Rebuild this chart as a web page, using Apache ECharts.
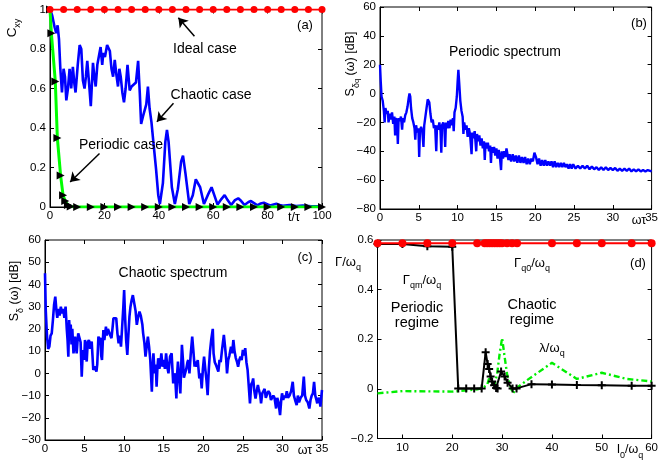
<!DOCTYPE html>
<html><head><meta charset="utf-8">
<script src="https://cdn.jsdelivr.net/npm/echarts@6/dist/echarts.min.js"></script>
<style>html,body{margin:0;padding:0;background:#fff}#c{width:661px;height:466px}</style>
</head><body><div id="c"></div><script>
// ---------- Panel (a): correlation C_xy vs t/tau ----------
const idealT = [0,5,10,15,20,25,30,35,40,45,50,55,60,65,70,75,80,85,90,95,100];
const idealC = [1,1,1,1,1,1,1,1,1,1,1,1,1,1,1,1,1,1,1,1,1];
const periodicT = [0,0.5,1.95,2.7,3.9,4.8,5.6,6.6,7.6,10,15,20,25,30,35,40,45,50,55,60,65,70,75,80,85,90,95,100];
const periodicC = [1,0.88,0.636,0.35,0.159,0.06,0.03,0.01,0.003,0,0,0,0,0,0,0,0,0,0,0,0,0,0,0,0,0,0,0];
const chaoticCase = [[0,1],[0.8,0.97],[1.7,0.91],[2.3,0.88],[2.8,0.92],[3.3,0.85],[3.8,0.70],[4.4,0.58],[5.0,0.70],[5.5,0.66],[6.0,0.54],[6.6,0.60],[7.2,0.70],[7.8,0.60],[8.4,0.71],[9.0,0.62],[9.4,0.58],[10.2,0.72],[10.9,0.82],[11.5,0.80],[12.1,0.64],[12.7,0.60],[13.2,0.66],[13.7,0.74],[14.4,0.62],[15.0,0.51],[15.8,0.73],[16.3,0.66],[16.8,0.61],[17.4,0.72],[18.0,0.73],[18.6,0.81],[19.2,0.72],[19.6,0.78],[20.2,0.76],[21.0,0.82],[21.5,0.83],[22.0,0.79],[22.6,0.70],[23.2,0.66],[23.8,0.745],[24.4,0.67],[25.0,0.61],[25.5,0.70],[26.0,0.66],[26.6,0.58],[27.2,0.53],[27.8,0.60],[28.5,0.72],[29.3,0.59],[30.0,0.61],[30.8,0.62],[31.6,0.63],[32.4,0.74],[33.0,0.58],[33.5,0.42],[34.2,0.46],[34.8,0.46],[35.4,0.52],[36.0,0.61],[36.6,0.50],[37.3,0.43],[38.0,0.33],[39.0,0.19],[39.8,0.06],[40.4,0.015],[41.5,0.12],[42.4,0.33],[43,0.39],[43.6,0.33],[44.8,0.1],[45.9,0.015],[47,0.09],[48.2,0.23],[48.9,0.26],[49.8,0.17],[51.2,0.015],[52.5,0.06],[53.6,0.14],[54.3,0.15],[55.2,0.10],[56.6,0.015],[58,0.06],[59.4,0.10],[60.4,0.06],[61.6,0.012],[63,0.04],[64.2,0.06],[65.3,0.035],[66.6,0.01],[68,0.035],[69.2,0.044],[70.3,0.03],[71.5,0.01],[73,0.025],[73.9,0.03],[75,0.02],[76.2,0.008],[77.5,0.018],[78.6,0.022],[79.8,0.014],[81,0.008],[82.2,0.013],[83.2,0.016],[84.5,0.01],[85.6,0.006],[88,0.01],[90.5,0.005],[93,0.007],[96,0.004],[100,0.003]];

// ---------- Panel (b): periodic spectrum ----------
const periodicSpectrum = [[0,20],[0.1,8],[0.2,-2],[0.35,-5],[0.5,-12],[0.6,-20],[0.7,-10],[0.85,-14],[1.0,-12],[1.1,-20],[1.25,-14],[1.4,-18],[1.55,-13],[1.7,-21],[1.85,-16],[1.95,-29],[2.05,-17],[2.2,-20],[2.3,-35],[2.4,-17],[2.55,-19],[2.7,-16],[2.85,-25],[2.95,-17],[3.1,-20],[3.25,-15],[3.4,-13],[3.55,-9],[3.7,-3],[3.8,0],[3.9,-2],[4.0,-10],[4.15,-17],[4.3,-20],[4.45,-24],[4.55,-32],[4.65,-22],[4.8,-27],[4.95,-24],[5.05,-44],[5.15,-26],[5.3,-23],[5.45,-26],[5.6,-37],[5.7,-22],[5.85,-16],[6.0,-10],[6.15,-4],[6.25,-3],[6.35,-6],[6.5,-14],[6.65,-20],[6.8,-18],[6.95,-24],[7.1,-22],[7.25,-40],[7.35,-22],[7.5,-25],[7.65,-20],[7.8,-26],[7.9,-41],[8.0,-22],[8.15,-20],[8.3,-24],[8.4,-37],[8.5,-20],[8.65,-24],[8.8,-19],[8.95,-24],[9.1,-18],[9.25,-22],[9.4,-17],[9.5,-26],[9.6,-13],[9.75,-10],[9.9,-2],[10.0,8],[10.1,16.5],[10.2,8],[10.35,-5],[10.5,-12],[10.65,-16],[10.75,-28],[10.85,-20],[11.0,-25],[11.15,-22],[11.3,-30],[11.45,-24],[11.6,-28],[11.8,-42],[11.9,-27],[12.05,-31],[12.2,-26],[12.4,-40],[12.5,-28],[12.65,-33],[12.8,-29],[12.95,-36],[13.1,-31],[13.25,-38],[13.4,-33],[13.5,-46],[13.6,-34],[13.75,-38],[13.9,-34],[14.05,-40],[14.2,-36],[14.3,-48],[14.4,-37],[14.55,-41],[14.7,-37],[14.85,-43],[15.0,-38],[15.15,-45],[15.3,-39],[15.45,-44],[15.6,-53],[15.7,-40],[15.85,-45],[16.0,-40],[16.15,-44],[16.3,-38],[16.4,-37],[16.55,-46],[16.7,-42],[16.9,-47],[17.1,-42],[17.3,-47],[17.5,-43],[17.7,-48],[17.9,-43],[18.1,-48],[18.3,-44],[18.5,-48],[18.7,-44],[18.9,-49],[19.1,-45],[19.3,-49],[19.5,-45],[19.7,-47],[19.9,-41],[20.1,-44],[20.3,-49],[20.5,-45],[20.7,-50],[20.9,-46],[21.1,-50],[21.3,-46],[21.5,-50],[21.7,-47],[21.9,-50],[22.1,-47],[22.3,-51],[22.5,-47],[22.7,-51],[22.9,-48],[23.1,-51],[23.3,-48],[23.5,-51],[23.7,-48],[23.9,-51],[24.1,-49],[24.3,-52],[24.5,-49],[24.7,-52],[24.9,-49],[25.2,-52],[25.5,-50],[25.8,-52],[26.1,-50],[26.4,-52],[26.7,-50],[27.0,-52.5],[27.3,-50.5],[27.6,-52.5],[27.9,-51],[28.2,-53],[28.5,-51],[28.8,-53],[29.1,-51],[29.4,-53],[29.7,-51.5],[30.0,-53],[30.3,-51.5],[30.6,-53.5],[30.9,-52],[31.2,-53.5],[31.5,-52],[31.8,-53.5],[32.1,-52],[32.4,-54],[32.7,-52.5],[33.0,-54],[33.3,-52.5],[33.6,-54],[33.9,-53],[34.2,-54],[34.5,-53],[35,-54]];

// ---------- Panel (c): chaotic spectrum ----------
const chaoticSpectrum = [[0,45],[0.1,28],[0.25,17],[0.4,11],[0.55,12],[0.7,17],[0.85,18],[1.0,24],[1.15,31],[1.3,34.5],[1.45,28],[1.55,25],[1.7,29],[1.85,26],[2.0,30],[2.15,27],[2.3,29],[2.45,25],[2.6,30],[2.75,20],[2.85,15],[2.95,7.5],[3.05,24],[3.15,18],[3.25,22],[3.35,13],[3.45,20],[3.6,9],[3.7,12],[3.8,16.5],[3.9,13],[4.0,9],[4.1,14],[4.2,18],[4.35,16],[4.5,14],[4.64,-1.5],[4.75,8],[4.85,10.5],[4.95,6],[5.05,15],[5.15,12],[5.27,5.3],[5.4,14],[5.55,15],[5.7,11],[5.8,13],[5.9,14.3],[6.0,8],[6.1,1.5],[6.25,3],[6.4,2],[6.5,0.8],[6.6,4],[6.75,16.5],[6.9,15],[7.0,16],[7.1,8],[7.2,6],[7.3,14],[7.38,19.5],[7.5,15],[7.6,18],[7.7,21],[7.8,17],[7.95,20],[8.1,19.5],[8.25,17],[8.4,15.8],[8.55,21],[8.65,24.8],[8.8,25],[9.0,24.8],[9.15,18],[9.3,13.5],[9.45,17],[9.6,12],[9.7,18],[9.8,24],[9.9,30],[10.0,37.5],[10.1,27],[10.25,15],[10.4,8.3],[10.5,15],[10.67,25.5],[10.8,30],[10.95,33],[11.1,35.2],[11.3,34.5],[11.45,28],[11.6,21.8],[11.75,25],[11.94,27.8],[12.1,26],[12.2,25.5],[12.3,22],[12.4,18],[12.55,14],[12.7,7.5],[12.85,12],[13.0,16.5],[13.15,12],[13.3,6],[13.5,-8.3],[13.6,2],[13.7,9],[13.85,0],[14.0,4],[14.1,-6],[14.2,2],[14.3,6.8],[14.45,2],[14.6,5],[14.7,9],[14.85,3],[15.0,6],[15.15,2],[15.3,9],[15.45,3],[15.6,0],[15.8,7.5],[16.0,9],[16.1,2],[16.2,-4.5],[16.35,0],[16.45,-2],[16.6,-11.3],[16.7,0],[16.8,5.3],[16.95,-2],[17.1,-9],[17.2,2],[17.3,12.8],[17.45,5],[17.55,-2],[17.7,-1.5],[17.85,2],[18.0,5],[18.1,6],[18.25,0],[18.4,8],[18.6,16.5],[18.75,10],[18.9,3],[19.0,5.3],[19.15,3],[19.3,6],[19.5,-2.3],[19.65,0],[19.8,-6.8],[19.95,2],[20.1,7.5],[20.25,2],[20.4,-3],[20.55,-9.8],[20.7,2],[20.85,10],[21.0,15],[21.2,20],[21.3,9],[21.45,5],[21.6,3.8],[21.75,4],[21.9,0.8],[22.05,6],[22.2,5],[22.35,10],[22.6,17.3],[22.75,12],[22.9,6],[23.0,0],[23.15,6],[23.3,8],[23.5,12],[23.65,9],[23.8,15],[23.95,10],[24.1,7],[24.25,5.3],[24.4,3],[24.55,6],[24.7,7.5],[24.85,6],[25.0,10.5],[25.15,8],[25.3,11.3],[25.45,5],[25.6,1.5],[25.75,-6],[25.9,-13.5],[26.05,-5],[26.2,-4],[26.3,-2.3],[26.45,-8],[26.6,-11.3],[26.75,-8],[26.9,-5.3],[27.0,-7],[27.1,-7.5],[27.2,-10],[27.3,-13.5],[27.45,-9],[27.6,-9],[27.75,-7],[27.9,-11],[28.0,-10.5],[28.2,-8],[28.4,-9],[28.55,-12],[28.7,-12],[28.85,-10],[29.0,-11],[29.2,-15.8],[29.35,-11],[29.5,-13],[29.7,-18.8],[29.85,-12],[29.95,-9],[30.1,-12],[30.25,-10],[30.4,-11],[30.55,-8],[30.7,-11],[30.9,-10],[31.1,-8],[31.3,-3.8],[31.45,-10],[31.6,-12],[31.8,-14.3],[31.95,-10],[32.1,-13],[32.3,-11],[32.5,-10],[32.7,-1.5],[32.85,-10],[33.0,-12],[33.2,-13],[33.4,-15.8],[33.55,-12],[33.7,-10],[33.85,-9],[34.0,-3.8],[34.15,-10],[34.3,-12],[34.4,-13.5],[34.55,-11],[34.7,-12],[34.8,-15],[34.9,-11],[35,-7.5]];

// ---------- Panel (d): rates vs I0/omega_q ----------
const gq0I = [5,10,15,20,25,26.5,27,27.5,28,28.5,29,29.5,30,31,32,33,40,45,50,56,60];
const gq0V = [0.587,0.587,0.587,0.587,0.587,0.587,0.587,0.587,0.587,0.587,0.587,0.587,0.587,0.587,0.587,0.587,0.587,0.587,0.587,0.587,0.587];
const gqmI = [5,10,15,20,21.2,22.8,24.4,25.9,26.7,27.1,27.4,27.7,28,28.4,28.8,29.1,29.8,30.5,31.1,32.1,32.9,35.9,40,45,50,56,60];
const gqmV = [0.584,0.584,0.575,0.573,0.002,0.002,0.002,0.002,0.148,0.10,0.08,0.05,0.03,0.015,0.004,0.002,0.07,0.05,0.025,0.002,0.002,0.019,0.018,0.016,0.015,0.013,0.013];
const lambdaI = [5,10,20,25,26,27,27.5,28,28.5,29,29.5,30,30.5,31,31.5,32.2,33,35,40,45,50,55,60];
const lambdaV = [-0.018,-0.009,-0.011,-0.002,0.003,0.015,0.05,0.025,0.02,0.06,0.14,0.205,0.13,0.06,0.02,-0.018,0.005,0.035,0.105,0.04,0.065,0.04,0.03];

const zip = (a, b) => a.map((v, i) => [v, b[i]]);
const FONT = '"Liberation Sans", Arial, Helvetica, sans-serif';
const minus = v => String(+(+v).toFixed(4)).replace('-', '\u2212');

const grids = [
  {left: 50, top: 9.5, width: 272, height: 197.5},
  {left: 380, top: 7, width: 277, height: 202},
  {left: 45, top: 240, width: 277, height: 200},
  {left: 377.5, top: 240, width: 277.5, height: 198.5}
].map(g => Object.assign({show: true, borderColor: '#000', borderWidth: 1, backgroundColor: '#fff'}, g));

const xAxes = [], yAxes = [];
function addAxes(gi, xr, yr) {
  const tick = {show: true, inside: true, length: 4, lineStyle: {color: '#000', width: 1}};
  const xt = Object.assign({}, tick, xr.custom ? {customValues: xr.custom} : {});
  xAxes.push({type: 'value', gridIndex: gi, position: 'bottom', min: xr.min, max: xr.max, interval: xr.int,
    splitLine: {show: false}, axisLine: {show: true, onZero: false, lineStyle: {color: '#000'}}, axisTick: xt,
    axisLabel: Object.assign({color: '#000', fontSize: 11.5, fontFamily: FONT, margin: 3, formatter: minus},
      xr.custom ? {customValues: xr.custom} : {})});
  xAxes.push({type: 'value', gridIndex: gi, position: 'top', min: xr.min, max: xr.max, interval: xr.int,
    splitLine: {show: false}, axisLine: {show: false, onZero: false}, axisTick: xt, axisLabel: {show: false}});
  yAxes.push({type: 'value', gridIndex: gi, position: 'left', min: yr.min, max: yr.max, interval: yr.int,
    splitLine: {show: false}, axisLine: {show: true, onZero: false, lineStyle: {color: '#000'}}, axisTick: tick,
    axisLabel: {color: '#000', fontSize: 11.5, fontFamily: FONT, margin: 4, formatter: minus}});
  yAxes.push({type: 'value', gridIndex: gi, position: 'right', min: yr.min, max: yr.max, interval: yr.int,
    splitLine: {show: false}, axisLine: {show: false, onZero: false}, axisTick: tick, axisLabel: {show: false}});
}
addAxes(0, {min: 0, max: 100, int: 20}, {min: 0, max: 1, int: 0.2});
addAxes(1, {min: 0, max: 35, int: 5}, {min: -80, max: 60, int: 20});
addAxes(2, {min: 0, max: 35, int: 5}, {min: -30, max: 60, int: 10});
addAxes(3, {min: 5, max: 60, int: 5, custom: [10, 20, 30, 40, 50, 60]}, {min: -0.2, max: 0.6, int: 0.2});

const arrowStyle = {color: '#000', width: 1.5, type: 'solid'};
const series = [
  {type: 'line', xAxisIndex: 0, yAxisIndex: 0, data: chaoticCase, showSymbol: false, symbol: 'none',
   lineStyle: {color: '#0000ff', width: 2.6}, z: 3},
  {type: 'line', xAxisIndex: 0, yAxisIndex: 0, data: zip(periodicT, periodicC), symbol: 'triangle', symbolSize: 8, symbolRotate: -90,
   itemStyle: {color: '#000'}, lineStyle: {color: '#00ff00', width: 3}, z: 4},
  {type: 'line', xAxisIndex: 0, yAxisIndex: 0, data: zip(idealT, idealC), symbol: 'circle', symbolSize: 7,
   itemStyle: {color: '#ff0000'}, lineStyle: {color: '#ff0000', width: 2}, z: 5,
   markLine: {silent: true, symbol: ['none', 'arrow'], symbolSize: 9, label: {show: false}, lineStyle: arrowStyle, animation: false,
     data: [
       [{coord: [53.1, 0.864]}, {coord: [47.2, 0.958]}],
       [{coord: [45.4, 0.525]}, {coord: [39.3, 0.432]}],
       [{coord: [18.2, 0.271]}, {coord: [7.4, 0.127]}]
     ]}},
  {type: 'line', xAxisIndex: 2, yAxisIndex: 2, data: periodicSpectrum, symbol: 'none', lineStyle: {color: '#0000ff', width: 2.4}},
  {type: 'line', xAxisIndex: 4, yAxisIndex: 4, data: chaoticSpectrum, symbol: 'none', lineStyle: {color: '#0000ff', width: 2.6}},
  {type: 'line', xAxisIndex: 6, yAxisIndex: 6, data: zip(lambdaI, lambdaV), symbol: 'none',
   lineStyle: {color: '#00ee00', width: 2.4, type: [6, 3, 2, 3]}, z: 3},
  {type: 'line', xAxisIndex: 6, yAxisIndex: 6, data: zip(gqmI, gqmV), symbol: 'path://M-1,0L1,0M0,-1L0,1', symbolSize: 8,
   itemStyle: {color: 'none', borderColor: '#000', borderWidth: 2}, lineStyle: {color: '#000', width: 2}, z: 4},
  {type: 'line', xAxisIndex: 6, yAxisIndex: 6, data: zip(gq0I, gq0V), symbol: 'circle', symbolSize: 8,
   itemStyle: {color: '#ff0000'}, lineStyle: {color: '#ff0000', width: 2}, z: 5}
];

const M = 13.5, S = 9;
function txt(x, y, text, opts) {
  opts = opts || {};
  return {type: 'text', x: x, y: y, rotation: opts.rot || 0, z: 100,
    style: {text: text, fill: '#000', font: (opts.size || M) + 'px ' + FONT, align: 'center', verticalAlign: 'middle',
      rich: {
        m: {fontSize: opts.size || M, fontFamily: FONT, lineHeight: 20, verticalAlign: 'middle'},
        s: {fontSize: S, fontFamily: FONT, lineHeight: 10, verticalAlign: 'bottom'},
        ss: {fontSize: 7.5, fontFamily: FONT, lineHeight: 4, verticalAlign: 'bottom'}
      }}};
}
const graphics = [
  txt(12, 28, '{m|C}{s|xy}', {rot: Math.PI / 2}),
  txt(205, 49, 'Ideal case', {size: 14}),
  txt(211, 95, 'Chaotic case', {size: 14}),
  txt(121, 145, 'Periodic case', {size: 14}),
  txt(305, 25, '(a)', {size: 13}),
  txt(294, 218, 't/\u03c4', {size: 12.5}),
  txt(351, 64, '{m|S}{s|\u03b4}{ss|q}{m| (\u03c9) [dB]}', {rot: Math.PI / 2, size: 12.5}),
  txt(505, 52, 'Periodic spectrum', {size: 14}),
  txt(639, 23, '(b)', {size: 13}),
  txt(639, 221, '\u03c9\u03c4', {size: 12.5}),
  txt(15, 291, '{m|S}{s|\u03b4}{m| (\u03c9) [dB]}', {rot: Math.PI / 2, size: 12.5}),
  txt(173, 273, 'Chaotic spectrum', {size: 14}),
  txt(305, 257, '(c)', {size: 13}),
  txt(305, 451, '\u03c9\u03c4', {size: 12.5}),
  txt(348, 262, '{m|\u0393/\u03c9}{s|q}', {size: 13}),
  txt(532, 263, '{m|\u0393}{s|q0}{m|/\u03c9}{s|q}', {size: 13}),
  txt(422, 280, '{m|\u0393}{s|qm}{m|/\u03c9}{s|q}', {size: 13}),
  txt(417, 308, 'Periodic', {size: 14.5}),
  txt(417, 323, 'regime', {size: 14.5}),
  txt(532, 305, 'Chaotic', {size: 14.5}),
  txt(532, 320, 'regime', {size: 14.5}),
  txt(552, 348, '{m|\u03bb/\u03c9}{s|q}', {size: 13}),
  txt(638, 263, '(d)', {size: 13}),
  txt(630, 450, '{m|I}{s|0}{m|/\u03c9}{s|q}', {size: 12.5})
];

const chart = echarts.init(document.getElementById('c'), null, {renderer: 'canvas'});
chart.setOption({
  animation: false,
  backgroundColor: '#fff',
  grid: grids,
  xAxis: xAxes,
  yAxis: yAxes,
  series: series,
  graphic: graphics
});
</script></body></html>
